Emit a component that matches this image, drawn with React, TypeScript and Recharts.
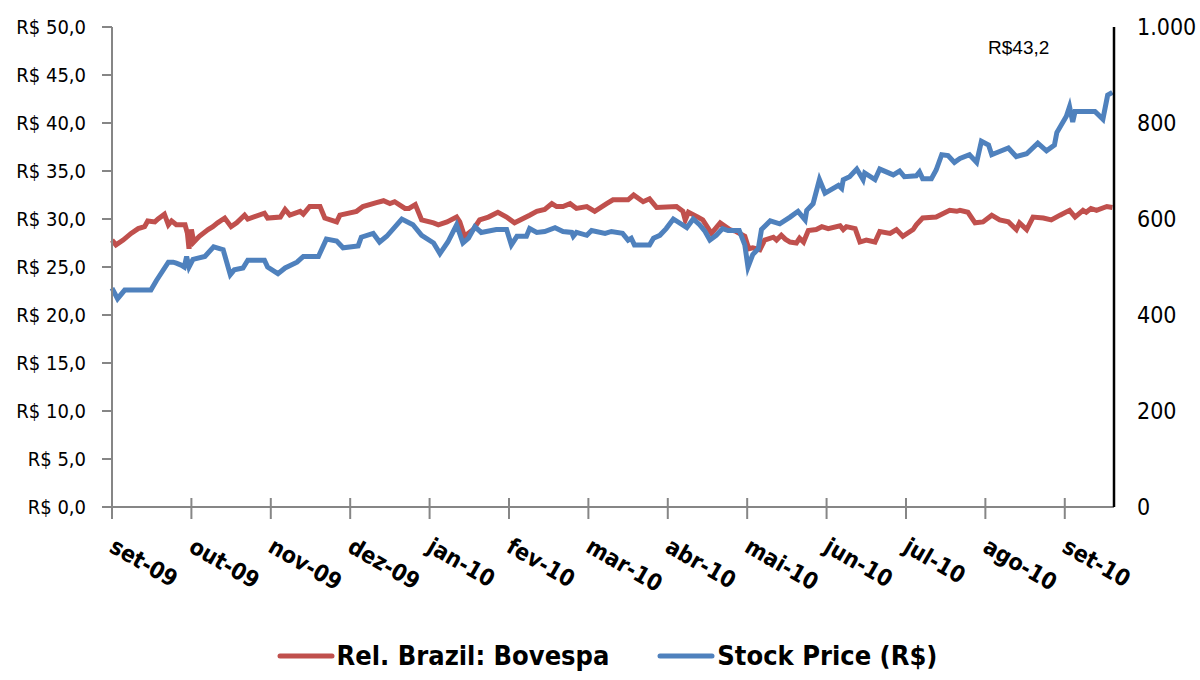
import React from "react";
import {
  Legend,
  Line,
  LineChart,
  ReferenceDot,
  XAxis,
  YAxis,
} from "recharts";

// month labels, one per tick (0 = set-09 ... 12 = set-10)
const MONTHS = [
  "set-09", "out-09", "nov-09", "dez-09", "jan-10", "fev-10", "mar-10",
  "abr-10", "mai-10", "jun-10", "jul-10", "ago-10", "set-10",
];

// x position in months since set-09
const stockMonths = [
  0.0, 0.07, 0.16, 0.49, 0.56, 0.71, 0.77, 0.81, 0.87, 0.91, 0.94, 0.97, 1.02,
  1.17, 1.28, 1.4, 1.49, 1.54, 1.65, 1.71, 1.92, 1.96, 2.09, 2.18, 2.33, 2.41,
  2.6, 2.7, 2.83, 2.91, 3.1, 3.14, 3.29, 3.37, 3.46, 3.65, 3.79, 3.9, 4.05,
  4.13, 4.23, 4.34, 4.42, 4.49, 4.57, 4.65, 4.84, 4.97, 5.03, 5.1, 5.22, 5.26,
  5.35, 5.45, 5.58, 5.68, 5.79, 5.81, 5.85, 5.98, 6.04, 6.21, 6.29, 6.43, 6.5,
  6.54, 6.58, 6.77, 6.82, 6.9, 6.98, 7.07, 7.24, 7.32, 7.4, 7.47, 7.53, 7.61,
  7.69, 7.76, 7.9, 7.97, 8.01, 8.07, 8.14, 8.18, 8.29, 8.41, 8.54, 8.64, 8.73,
  8.75, 8.83, 8.91, 8.98, 9.15, 9.19, 9.21, 9.29, 9.38, 9.46, 9.48, 9.61, 9.67,
  9.84, 9.92, 9.98, 10.13, 10.17, 10.21, 10.32, 10.38, 10.45, 10.53, 10.61,
  10.68, 10.8, 10.89, 10.95, 11.04, 11.08, 11.14, 11.29, 11.39, 11.52, 11.66,
  11.77, 11.87, 11.9, 12.02, 12.06, 12.1, 12.13, 12.38, 12.48, 12.54, 12.6,
];
const stockValues = [
  22.8, 21.7, 22.6, 22.6, 23.6, 25.5, 25.5, 25.4, 25.2, 25.0, 26.1, 25.0, 25.8,
  26.1, 27.1, 26.8, 24.2, 24.7, 24.9, 25.7, 25.7, 25.0, 24.3, 24.9, 25.5, 26.1,
  26.1, 27.9, 27.7, 27.0, 27.2, 28.1, 28.5, 27.6, 28.2, 30.0, 29.4, 28.3, 27.5,
  26.4, 27.6, 29.4, 27.5, 28.0, 29.2, 28.6, 28.9, 28.9, 27.3, 28.2, 28.2, 29.0,
  28.6, 28.7, 29.1, 28.7, 28.6, 28.2, 28.6, 28.3, 28.8, 28.5, 28.7, 28.5, 27.8,
  28.0, 27.3, 27.3, 28.0, 28.3, 29.0, 30.0, 29.1, 30.0, 29.4, 28.7, 27.8, 28.3,
  29.0, 28.8, 28.8, 27.3, 25.0, 26.3, 26.9, 28.9, 29.8, 29.5, 30.2, 30.8, 29.9,
  30.9, 31.6, 34.1, 32.7, 33.5, 33.2, 34.1, 34.4, 35.2, 34.1, 34.8, 34.1, 35.2,
  34.6, 35.0, 34.4, 34.5, 34.9, 34.2, 34.2, 35.1, 36.7, 36.6, 35.9,
  36.3, 36.7, 35.9, 38.1, 37.7, 36.7, 36.9, 37.4, 36.5, 36.8, 37.9,
  37.1, 37.7, 39.0, 40.7, 41.7, 40.1, 41.2, 41.2, 40.4, 42.9, 43.2,
];

const relMonths = [
  0.0, 0.05, 0.14, 0.24, 0.33, 0.41, 0.45, 0.54, 0.58, 0.66, 0.71, 0.75, 0.81,
  0.92, 0.95, 0.97, 1.0, 1.03, 1.1, 1.21, 1.27, 1.33, 1.42, 1.5, 1.57, 1.67,
  1.71, 1.92, 1.96, 2.12, 2.18, 2.24, 2.37, 2.41, 2.49, 2.62, 2.68, 2.83, 2.87,
  3.08, 3.16, 3.33, 3.42, 3.5, 3.56, 3.69, 3.74, 3.82, 3.9, 4.05, 4.11, 4.22,
  4.34, 4.38, 4.44, 4.55, 4.63, 4.74, 4.86, 4.97, 5.07, 5.26, 5.35, 5.45, 5.54,
  5.6, 5.68, 5.77, 5.85, 5.98, 6.08, 6.23, 6.31, 6.5, 6.57, 6.69, 6.77, 6.86,
  7.11, 7.19, 7.22, 7.26, 7.38, 7.44, 7.55, 7.66, 7.78, 7.86, 7.97, 8.02, 8.07,
  8.16, 8.22, 8.33, 8.37, 8.43, 8.48, 8.54, 8.62, 8.66, 8.71, 8.77, 8.87, 8.94,
  9.02, 9.17, 9.21, 9.25, 9.36, 9.42, 9.5, 9.61, 9.67, 9.8, 9.88, 9.96, 10.09,
  10.13, 10.21, 10.38, 10.55, 10.64, 10.68, 10.78, 10.87, 10.97, 11.08, 11.18,
  11.29, 11.39, 11.43, 11.52, 11.6, 11.73, 11.83, 11.94, 12.06, 12.13, 12.23,
  12.27, 12.33, 12.4, 12.53, 12.6,
];
const relValues = [
  27.8, 27.3, 27.8, 28.5, 29.0, 29.2, 29.8, 29.7, 30.0, 30.5, 29.4, 29.8, 29.4,
  29.4, 28.5, 26.9, 28.9, 27.6, 28.2, 28.9, 29.2, 29.6, 30.1, 29.2, 29.6, 30.4,
  30.0, 30.6, 30.1, 30.2, 31.0, 30.4, 30.8, 30.5, 31.3, 31.3, 30.1, 29.7, 30.4,
  30.8, 31.3, 31.7, 31.9, 31.6, 31.8, 31.1, 31.1, 31.5, 29.9, 29.6, 29.4, 29.7,
  30.2, 29.7, 28.2, 28.9, 29.9, 30.2, 30.7, 30.2, 29.6, 30.4, 30.8, 31.0, 31.6,
  31.3, 31.3, 31.6, 31.1, 31.3, 30.8, 31.6, 32.0, 32.0, 32.5, 31.8, 32.1, 31.2,
  31.3, 30.8, 29.9, 30.7, 30.2, 29.9, 28.5, 29.6, 28.9, 28.7, 28.2, 26.9, 27.0,
  26.8, 27.8, 28.1, 27.8, 28.3, 27.9, 27.6, 27.5, 28.0, 27.6, 28.8, 28.9, 29.2,
  29.0, 29.3, 28.9, 29.2, 29.0, 27.6, 27.8, 27.6, 28.7, 28.5, 28.9, 28.2, 28.9,
  29.4, 30.1, 30.2, 30.9, 30.8, 30.9, 30.7, 29.6, 29.7, 30.4, 29.9,
  29.7, 28.9, 29.6, 28.9, 30.2, 30.1, 29.9, 30.4, 30.9, 30.2, 30.9,
  30.7, 31.1, 30.9, 31.3, 31.2,
];

const LEFT_TICKS = [0, 5, 10, 15, 20, 25, 30, 35, 40, 45, 50];
const RIGHT_TICKS = [0, 200, 400, 600, 800, 1000];
const MONTH_TICKS = MONTHS.map((_, i) => i);

const RED = "#C0504D";
const BLUE = "#4F81BD";
const GRAY = "#868686";
const FONT = "'Liberation Sans Narrow', 'DejaVu Sans Condensed', sans-serif";

const stockData = stockMonths.map((m, i) => ({ m, v: stockValues[i] }));
const relData = relMonths.map((m, i) => ({ m, v: relValues[i] }));
const last = stockData[stockData.length - 1];

const fmtReal = (v: number) => `R$ ${v.toFixed(1).replace(".", ",")}`;
const fmtThousands = (v: number) =>
  v >= 1000 ? `${Math.floor(v / 1000)}.${String(v % 1000).padStart(3, "0")}` : String(v);

function MonthTick({ x, y, payload }: any) {
  const tx = x - 4;
  const ty = y + 44;
  return (
    <g>
      <line x1={x} x2={x} y1={y - 9} y2={y + 12} stroke={GRAY} strokeWidth={2} />
      <text
        x={tx}
        y={ty}
        transform={`rotate(30 ${tx} ${ty})`}
        textAnchor="start"
        fontFamily={FONT}
        fontWeight="bold"
        fontSize={23}
        fill="#000"
      >
        {MONTHS[payload.value]}
      </text>
    </g>
  );
}

function ChartLegend() {
  const items = [
    { label: "Rel. Brazil: Bovespa", color: RED },
    { label: "Stock Price (R$)", color: BLUE },
  ];
  return (
    <div style={{ display: "flex", justifyContent: "center", gap: 48, paddingLeft: 14 }}>
      {items.map((it) => (
        <div key={it.label} style={{ display: "flex", alignItems: "center" }}>
          <svg width={58} height={10}>
            <line x1={3} x2={55} y1={5} y2={5} stroke={it.color} strokeWidth={5} strokeLinecap="round" />
          </svg>
          <span style={{ fontFamily: FONT, fontWeight: "bold", fontSize: 27, marginLeft: 2 }}>
            {it.label}
          </span>
        </div>
      ))}
    </div>
  );
}

export default function App() {
  return (
    <div style={{ position: "absolute", left: 0, top: 0, background: "#fff" }}>
      <LineChart width={1200} height={680} margin={{ top: 27, right: 0, bottom: 0, left: 0 }}>
        <XAxis
          dataKey="m"
          type="number"
          domain={[0, 12.62]}
          ticks={MONTH_TICKS}
          interval={0}
          tick={<MonthTick />}
          tickLine={false}
          tickSize={0}
          tickMargin={0}
          axisLine={{ stroke: GRAY, strokeWidth: 2 }}
          height={133}
        />
        <YAxis
          yAxisId="left"
          domain={[0, 50]}
          ticks={LEFT_TICKS}
          interval={0}
          width={112}
          tickFormatter={fmtReal}
          tick={{ fontFamily: FONT, fontSize: 20, fill: "#000" }}
          tickLine={{ stroke: GRAY, strokeWidth: 2 }}
          tickSize={10}
          tickMargin={16}
          axisLine={{ stroke: GRAY, strokeWidth: 2 }}
        />
        <YAxis
          yAxisId="right"
          orientation="right"
          type="number"
          domain={[0, 1000]}
          allowDataOverflow
          ticks={RIGHT_TICKS}
          interval={0}
          width={86}
          tickFormatter={fmtThousands}
          tick={{ fontFamily: FONT, fontSize: 23, fill: "#000" }}
          tickLine={false}
          tickSize={0}
          tickMargin={23}
          axisLine={{ stroke: "#000", strokeWidth: 2.5 }}
        />
        <Legend
          verticalAlign="bottom"
          content={<ChartLegend />}
          wrapperStyle={{ height: 40 }}
        />
        {/* invisible series so the right axis gets a domain and draws its ticks */}
        <Line
          yAxisId="right"
          data={relData}
          dataKey="v"
          stroke="none"
          legendType="none"
          dot={false}
          activeDot={false}
          isAnimationActive={false}
        />
        <Line
          yAxisId="left"
          data={relData}
          dataKey="v"
          name="Rel. Brazil: Bovespa"
          type="linear"
          stroke={RED}
          strokeWidth={5}
          dot={false}
          isAnimationActive={false}
        />
        <Line
          yAxisId="left"
          data={stockData}
          dataKey="v"
          name="Stock Price (R$)"
          type="linear"
          stroke={BLUE}
          strokeWidth={5}
          dot={false}
          isAnimationActive={false}
        />
        <ReferenceDot
          yAxisId="left"
          x={11.42}
          y={47.9}
          r={0}
          label={{
            value: fmtReal(last.v).replace(" ", ""),
            fontFamily: "'Liberation Sans', Arial, sans-serif",
            fontSize: 19,
            fill: "#000",
          }}
        />
      </LineChart>
    </div>
  );
}
